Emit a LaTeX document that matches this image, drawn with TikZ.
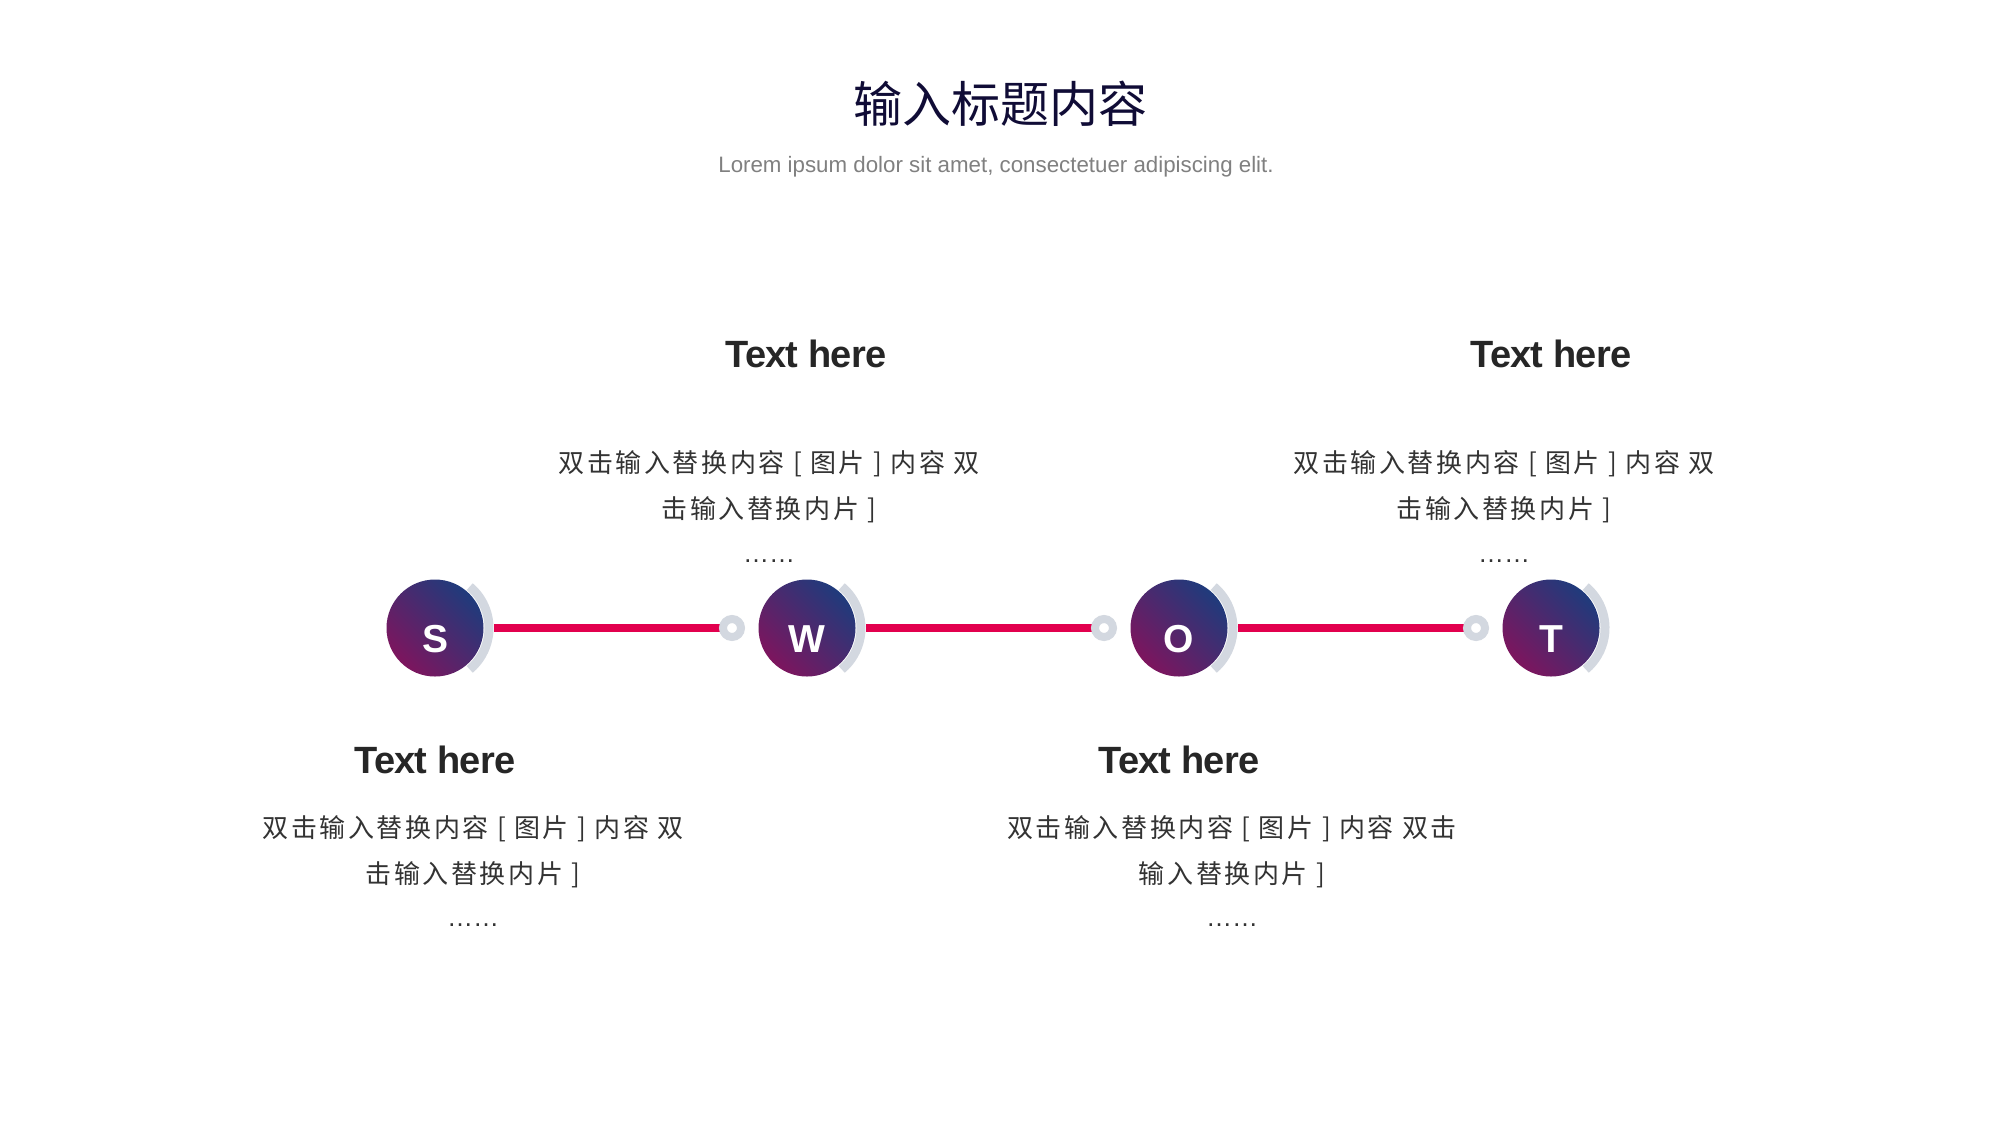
\documentclass[tikz,border=0pt]{standalone}
\usepackage{fontspec}
\usetikzlibrary{backgrounds}
\setmainfont{Liberation Sans}
\newfontfamily\cjk{Noto Sans CJK SC}
\newfontfamily\cjkls[LetterSpace=10]{Noto Sans CJK SC}
\newfontfamily\headfont[LetterSpace=-2]{Liberation Sans}
\definecolor{navyc}{HTML}{1F3B7C}
\definecolor{magc}{HTML}{7D155E}
\definecolor{redc}{HTML}{E2004E}
\definecolor{arcgray}{HTML}{D3D8E0}
\definecolor{titlec}{HTML}{100C36}
\definecolor{subc}{HTML}{808080}
\definecolor{headc}{HTML}{262626}
\definecolor{bodyc}{HTML}{333333}
\begin{document}
\begin{tikzpicture}[x=0.5pt,y=-0.5pt,
  ball/.style={circle, minimum size=48.5pt, inner sep=0pt,
    top color=navyc, bottom color=magc, shading angle=-45},
  letter/.style={anchor=base, inner sep=0pt, text=white,
    font=\bfseries\fontsize{19.5}{20}\selectfont},
  arcline/.style={draw=arcgray, line width=4.5pt},
  redline/.style={draw=redc, line width=4pt},
  ringnode/.style={circle, minimum size=9pt, inner sep=0pt, draw=arcgray, line width=4pt, fill=white},
  headtxt/.style={anchor=base, inner sep=0pt, text=headc,
    font=\headfont\bfseries\fontsize{19}{22}\selectfont},
  bodytxt/.style={anchor=base, inner sep=0pt, text=bodyc,
    font=\cjkls\fontsize{13}{22}\selectfont},
  dottxt/.style={anchor=base, inner sep=0pt, text=bodyc,
    font=\fontsize{13}{22}\selectfont}
]
\begin{scope}[on background layer]
\fill[white] (0,0) rectangle (2000,1126);
\end{scope}
\useasboundingbox (0,0) rectangle (2000,1126);

% title
\node[anchor=base, inner sep=0pt, text=titlec, font=\cjk\fontsize{24.5}{28}\selectfont] (title) at (1000,122) {输入标题内容};
\node[anchor=base, inner sep=0pt, text=subc, font=\fontsize{11.15}{14}\selectfont] (sub) at (996,172) {Lorem ipsum dolor sit amet, consectetuer adipiscing elit.};

% rings
\node[ringnode] (r1) at (732,628) {};
\node[ringnode] (r2) at (1104,628) {};
\node[ringnode] (r3) at (1476,628) {};

% balls
\node[ball] (s) at (435,628) {};
\node[ball] (w) at (807,628) {};
\node[ball] (o) at (1179,628) {};
\node[ball] (t) at (1551,628) {};

% red connectors (under rings)
\begin{scope}[on background layer]
\draw[redline] ([xshift=5.25pt]s.east) -- (r1.center);
\draw[redline] ([xshift=5.25pt]w.east) -- (r2.center);
\draw[redline] ([xshift=5.25pt]o.east) -- (r3.center);
\end{scope}

% arcs
\foreach \b in {s,w,o,t}{
  \draw[arcline] (\b.center) ++(-50:54) arc[start angle=-50, end angle=50, radius=54];
}

% letters
\node[letter] (ls) at (435,652) {S};
\node[letter] (lw) at (807,652) {W};
\node[letter] (lo) at (1179,652) {O};
\node[letter] (lt) at (1551,652) {T};

% top W
\node[headtxt] (hw) at (806,367) {Text here};
\node[bodytxt] (bw1) at (769,472) {双击输入替换内容 [ 图片 ] 内容 双};
\node[bodytxt] (bw2) at (769,518) {击输入替换内片 ]};
\node[dottxt] (bw3) at (769,562) {……};

% top T
\node[headtxt] (ht) at (1551,367) {Text here};
\node[bodytxt] (bt1) at (1504,472) {双击输入替换内容 [ 图片 ] 内容 双};
\node[bodytxt] (bt2) at (1504,518) {击输入替换内片 ]};
\node[dottxt] (bt3) at (1504,562) {……};

% bottom S
\node[headtxt] (hs) at (435,773) {Text here};
\node[bodytxt] (bs1) at (473,837) {双击输入替换内容 [ 图片 ] 内容 双};
\node[bodytxt] (bs2) at (473,883) {击输入替换内片 ]};
\node[dottxt] (bs3) at (473,926) {……};

% bottom O
\node[headtxt] (ho) at (1179,773) {Text here};
\node[bodytxt] (bo1) at (1232,837) {双击输入替换内容 [ 图片 ] 内容 双击};
\node[bodytxt] (bo2) at (1232,883) {输入替换内片 ]};
\node[dottxt] (bo3) at (1232,926) {……};
\end{tikzpicture}
\end{document}
